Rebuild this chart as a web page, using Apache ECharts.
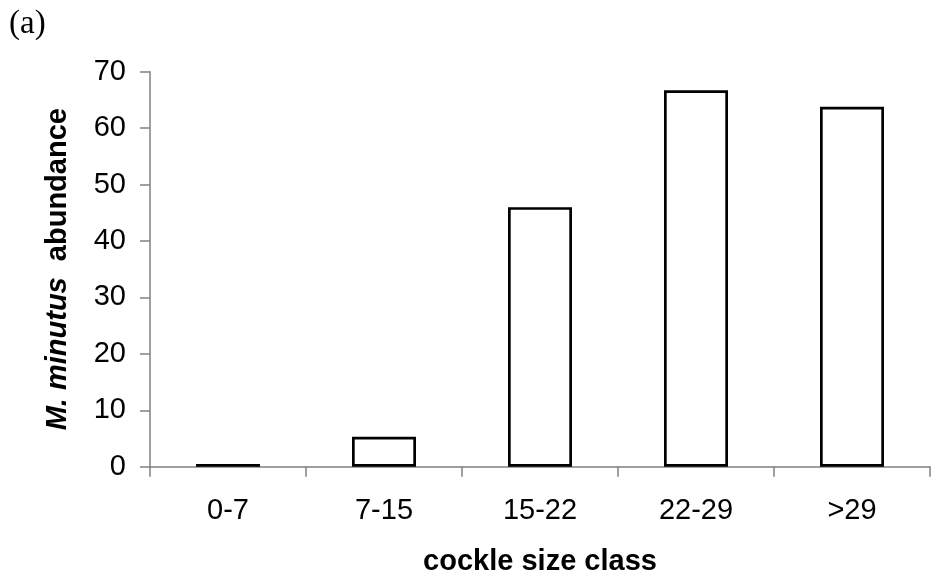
<!DOCTYPE html>
<html>
<head>
<meta charset="utf-8">
<script src="https://cdn.jsdelivr.net/npm/echarts@6/dist/echarts.min.js"></script>
<style>
html,body{margin:0;padding:0;background:#fff;}
#chart{width:932px;height:578px;}
</style>
</head>
<body>
<div id="chart"></div>
<script>
var categories = ['0-7', '7-15', '15-22', '22-29', '>29'];
var abundance = [0.5, 5.3, 46.0, 66.7, 63.8];
var yTicks = {min: 0, max: 70, interval: 10};
var panelLabel = '(a)';
var xTitle = 'cockle size class';

var chart = echarts.init(document.getElementById('chart'), null, {renderer: 'canvas'});
var font = '"Liberation Sans", Arial, sans-serif';
chart.setOption({
  animation: false,
  backgroundColor: '#fff',
  grid: {left: 150, right: 2, top: 71.7, bottom: 111.3, containLabel: false, outerBoundsMode: 'none'},
  graphic: [{
    type: 'text', left: 9, top: 8,
    style: {text: panelLabel, fontFamily: '"Liberation Serif", "Times New Roman", serif', fontSize: 33, fill: '#000'}
  }],
  xAxis: {
    type: 'category',
    data: categories,
    boundaryGap: true,
    axisLine: {lineStyle: {color: '#808080', width: 1.5}},
    axisTick: {show: true, inside: false, length: 10, lineStyle: {color: '#808080', width: 1.5}},
    axisLabel: {color: '#000', fontFamily: font, fontSize: 29, margin: 30},
    name: xTitle,
    nameLocation: 'middle',
    nameGap: 81,
    nameTextStyle: {color: '#000', fontFamily: font, fontSize: 29, fontWeight: 'bold'}
  },
  yAxis: {
    type: 'value',
    min: yTicks.min, max: yTicks.max, interval: yTicks.interval,
    splitLine: {show: false},
    axisLine: {show: true, lineStyle: {color: '#808080', width: 1.5}},
    axisTick: {show: true, inside: false, length: 10, lineStyle: {color: '#808080', width: 1.5}},
    axisLabel: {color: '#000', fontFamily: font, fontSize: 29, margin: 24},
    name: '{i|M. minutus}{b|  abundance}',
    nameLocation: 'middle',
    nameGap: 78,
    nameRotate: 90,
    nameTextStyle: {
      color: '#000', fontFamily: font, fontSize: 29, fontWeight: 'bold',
      rich: {
        i: {fontStyle: 'italic', fontWeight: 'bold', fontFamily: font, fontSize: 29, color: '#000'},
        b: {fontWeight: 'bold', fontFamily: font, fontSize: 29, color: '#000'}
      }
    }
  },
  series: [{
    type: 'bar',
    data: abundance,
    barWidth: 64,
    itemStyle: {color: '#fff', borderColor: '#000', borderWidth: 2.7},
    emphasis: {disabled: true}
  }]
});
</script>
</body>
</html>
